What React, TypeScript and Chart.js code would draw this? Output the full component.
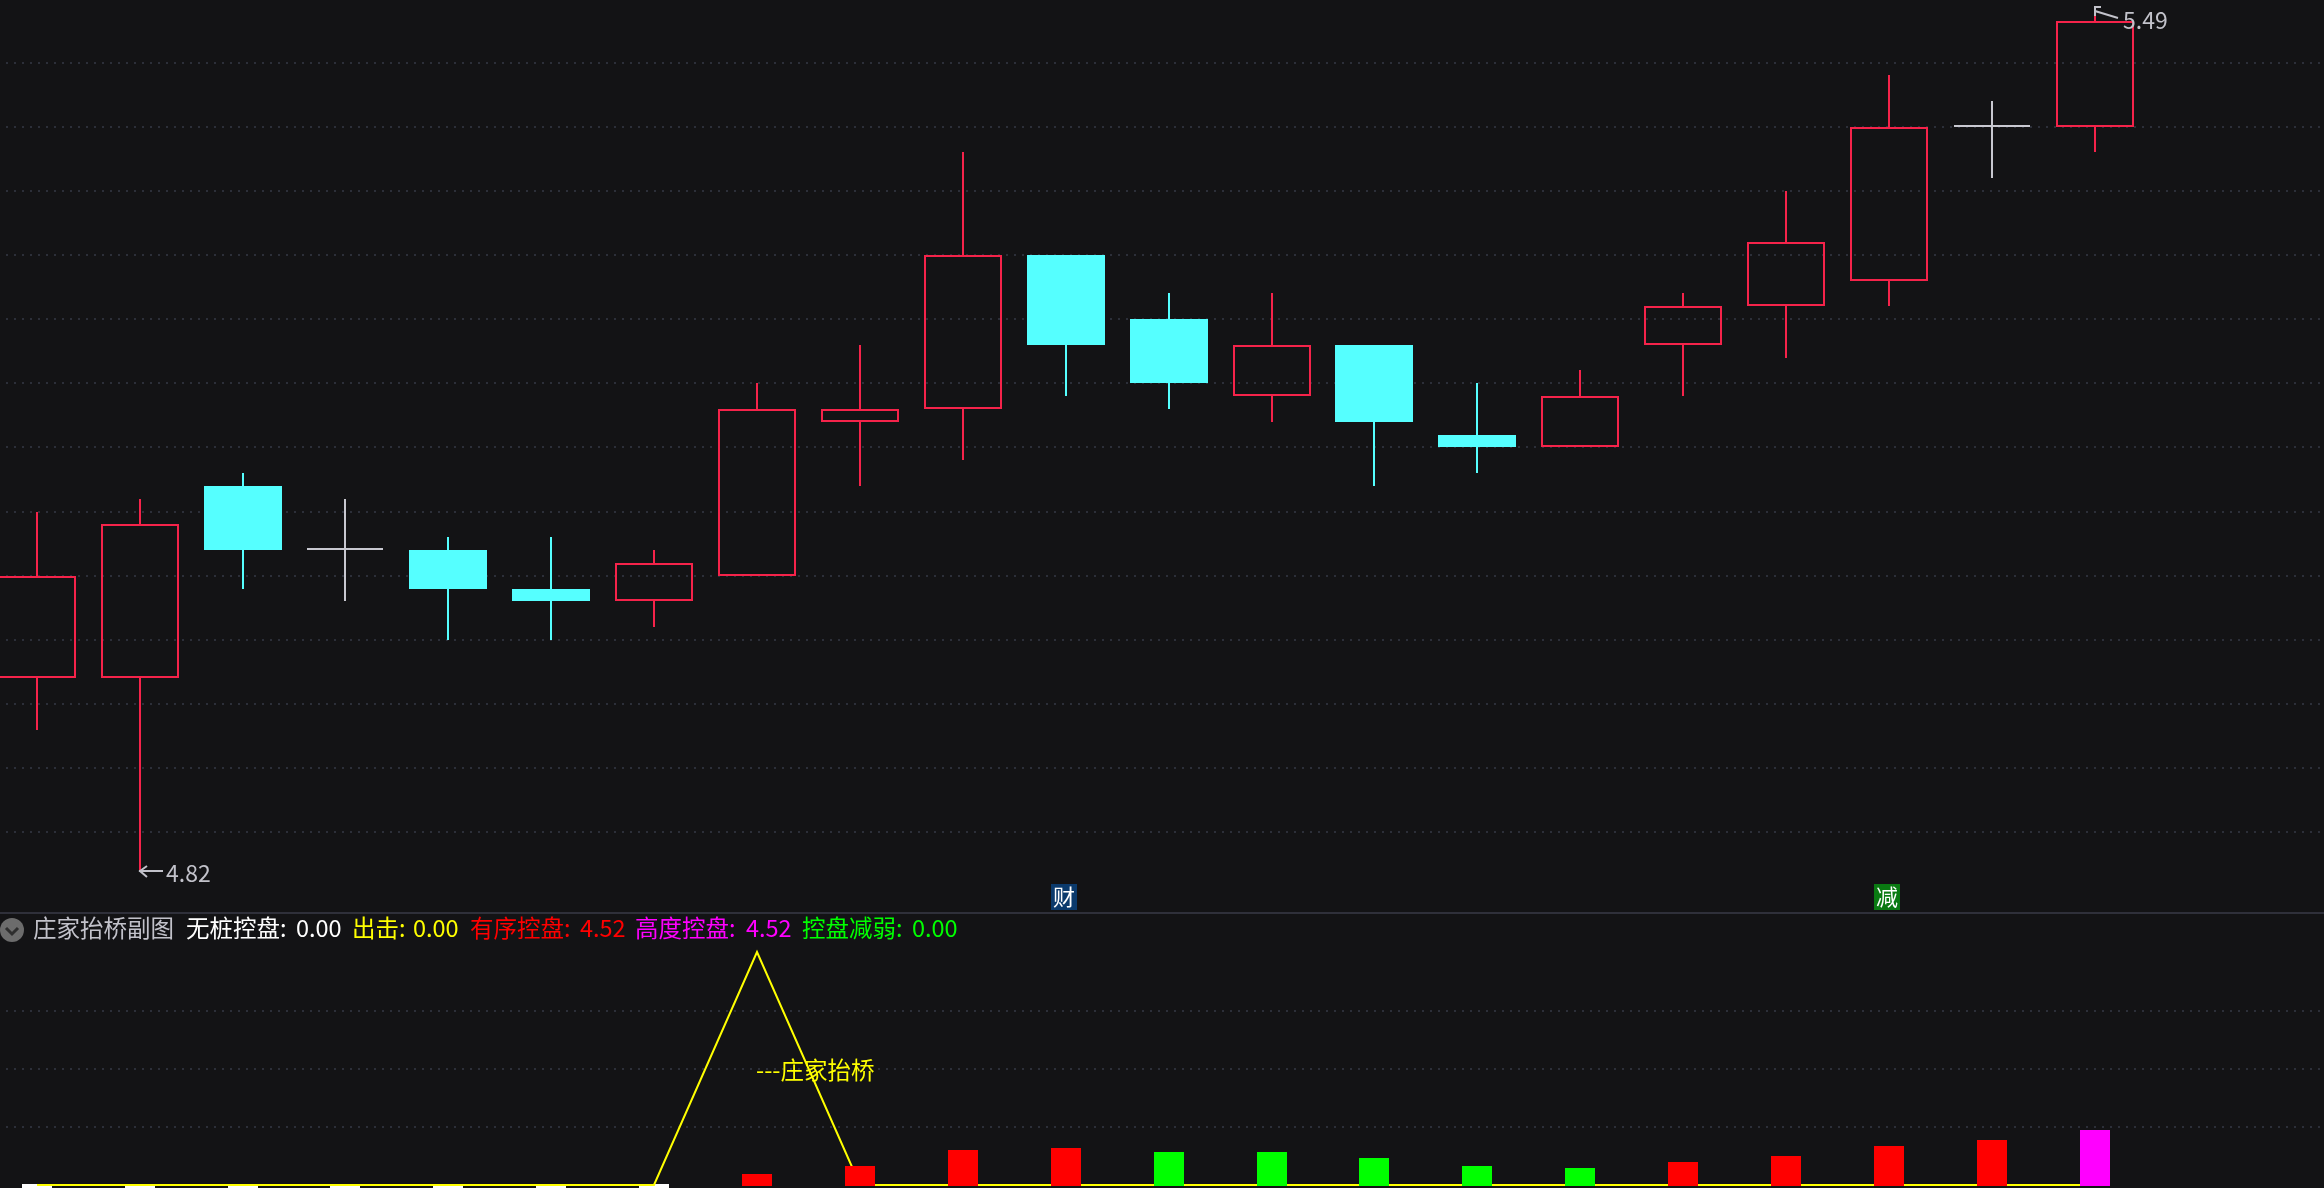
import React, { useEffect, useRef } from "react";
import { Chart, registerables } from "chart.js";

Chart.register(...registerables);

// ---- price panel data (one entry per trading day) ----
const opens = [4.97, 4.97, 5.12, 5.07, 5.07, 5.04, 5.03, 5.05, 5.17, 5.18, 5.30, 5.25, 5.19, 5.23, 5.16, 5.15, 5.23, 5.26, 5.28, 5.40, 5.40];
const closes = [5.05, 5.09, 5.07, 5.07, 5.04, 5.03, 5.06, 5.18, 5.18, 5.30, 5.23, 5.20, 5.23, 5.17, 5.15, 5.19, 5.26, 5.31, 5.40, 5.40, 5.482];
const highs = [5.10, 5.11, 5.13, 5.11, 5.08, 5.08, 5.07, 5.20, 5.23, 5.38, 5.30, 5.27, 5.27, 5.23, 5.20, 5.21, 5.27, 5.35, 5.44, 5.42, 5.49];
const lows = [4.93, 4.82, 5.04, 5.03, 5.00, 5.00, 5.01, 5.05, 5.12, 5.14, 5.19, 5.18, 5.17, 5.12, 5.13, 5.15, 5.19, 5.22, 5.26, 5.36, 5.38];
const priceTicks = [4.85, 4.9, 4.95, 5.0, 5.05, 5.1, 5.15, 5.2, 5.25, 5.3, 5.35, 5.4, 5.45];
const lowLabel = "4.82";
const highLabel = "5.49";
const lowIndex = 1;
const highIndex = 20;
const markerTexts = ["财", "减"];
const markerDays = [10, 18];
const markerColors = ["#0b3a6c", "#0a7a12"];

// ---- indicator panel data ----
const bridgeLine = [0.08, 0.08, 0.08, 0.08, 0.08, 0.08, 0.08, 18.89, 0.08, 0.08, 0.08, 0.08, 0.08, 0.08, 0.08, 0.08, 0.08, 0.08, 0.08, 0.08, 0.08];
const noControl = [0, 0, 0, 0, 0, 0, 0, null, null, null, null, null, null, null, null, null, null, null, null, null, null];
const orderedControl = [null, null, null, null, null, null, null, 0.97, 1.61, 2.91, 3.07, null, null, null, null, null, 1.94, 2.42, 3.23, 3.71, null];
const weakening = [null, null, null, null, null, null, null, null, null, null, null, 2.74, 2.74, 2.26, 1.61, 1.45, null, null, null, null, null];
const highControl = [null, null, null, null, null, null, null, null, null, null, null, null, null, null, null, null, null, null, null, null, 4.52];
const indicatorTicks = [4.76, 9.44, 14.12];
const panelTitle = "庄家抬桥副图";
const legendNames = ["无桩控盘:", "出击:", "有序控盘:", "高度控盘:", "控盘减弱:"];
const legendValues = ["0.00", "0.00", "4.52", "4.52", "0.00"];
const bridgeLabel = "---庄家抬桥";
const bridgeLabelDay = 7;
const bridgeLabelValue = 9.36;

// ---- style ----
const BG = "#131315";
const RED = "#f5234a";
const CYAN = "#55ffff";
const DOJI = "#c8c8d0";
const GRID = "#2c2f39";
const TEXT = "#c2c2ca";
const FONT = '"Noto Sans CJK SC", "Noto Sans", sans-serif';
const legendColors = ["#ffffff", "#ffff00", "#ff0000", "#ff00ff", "#00ff00"];
const legendX = [186, 352, 470, 635, 802];
const legendValueX = [296, 413, 580, 746, 912];
const X_MIN = -0.3576;
const X_MAX = 22.2274;

const snap = (scale: any, fn: (v: number) => number = Math.round) => {
  if (scale.__snapped) return;
  const raw = scale.getPixelForValue.bind(scale);
  scale.getPixelForValue = (v: any, i: any) => fn(raw(v, i));
  scale.__snapped = true;
};

const xScale = {
  type: "linear",
  display: false,
  offset: false,
  min: X_MIN,
  max: X_MAX,
  afterBuildTicks: (scale: any) => snap(scale),
  grid: { display: false },
};

const yScale = (min: number, max: number, ticks: number[], fn: (v: number) => number) => ({
  type: "linear",
  min,
  max,
  afterBuildTicks: (scale: any) => {
    scale.ticks = ticks.map((value) => ({ value }));
    snap(scale, fn);
  },
  ticks: { display: false },
  border: { display: false, dash: [2, 6], dashOffset: 2 },
  grid: { color: GRID, lineWidth: 2, drawTicks: false },
});

const barBase = { type: "bar", grouped: false, inflateAmount: 0, borderSkipped: false };

const days = opens.map((_, i) => i);
const floating = (pick: (i: number) => boolean, lo: (i: number) => number, hi: (i: number) => number) =>
  days.filter(pick).map((i) => ({ x: i, y: [lo(i), hi(i)] }));
const isUp = (i: number) => closes[i] > opens[i];
const isDown = (i: number) => closes[i] < opens[i];
const isDoji = (i: number) => closes[i] === opens[i];
const bodyTop = (i: number) => Math.max(opens[i], closes[i]);
const bodyBottom = (i: number) => Math.min(opens[i], closes[i]);
const wicks = (pick: (i: number) => boolean) => [
  ...floating((i) => pick(i) && highs[i] > bodyTop(i), bodyTop, (i) => highs[i]),
  ...floating((i) => pick(i) && lows[i] < bodyBottom(i), (i) => lows[i], bodyBottom),
];

const priceDatasets = [
  { ...barBase, label: "阳线影", data: wicks(isUp), backgroundColor: RED, barThickness: 2, borderWidth: 0, order: 3 },
  { ...barBase, label: "阴线影", data: wicks(isDown), backgroundColor: CYAN, barThickness: 2, borderWidth: 0, order: 3 },
  { ...barBase, label: "十字影", data: wicks(isDoji), backgroundColor: DOJI, barThickness: 2, borderWidth: 0, order: 3 },
  { ...barBase, label: "阳线", data: floating(isUp, bodyBottom, bodyTop), backgroundColor: "rgba(0,0,0,0)", borderColor: RED, borderWidth: 2, barThickness: 78, order: 2 },
  { ...barBase, label: "阴线", data: floating(isDown, bodyBottom, bodyTop), backgroundColor: CYAN, borderWidth: 0, barThickness: 78, order: 2 },
  { ...barBase, label: "十字", data: floating(isDoji, bodyBottom, bodyTop), backgroundColor: DOJI, borderWidth: 0, barThickness: 76, minBarLength: 2, order: 2 },
];

const series = (values: (number | null)[]) =>
  values.map((y, x) => ({ x, y })).filter((p) => p.y !== null);

const indicatorDatasets = [
  { ...barBase, label: "无桩控盘", data: series(noControl), backgroundColor: "#ffffff", borderWidth: 0, barThickness: 30, minBarLength: 4, order: 3 },
  {
    type: "line",
    label: "出击",
    data: series(bridgeLine),
    borderColor: "#ffff00",
    borderWidth: 2,
    pointRadius: 0,
    tension: 0,
    order: 2,
  },
  { ...barBase, label: "有序控盘", data: series(orderedControl), backgroundColor: "#ff0000", borderWidth: 0, barThickness: 30, order: 1 },
  { ...barBase, label: "控盘减弱", data: series(weakening), backgroundColor: "#00ff00", borderWidth: 0, barThickness: 30, order: 1 },
  { ...barBase, label: "高度控盘", data: series(highControl), backgroundColor: "#ff00ff", borderWidth: 0, barThickness: 30, order: 1 },
];

const pricePlugin = {
  id: "priceNotes",
  afterDatasetsDraw(chart: any) {
    const { ctx, scales } = chart;
    ctx.save();
    ctx.textAlign = "left";
    ctx.textBaseline = "alphabetic";
    ctx.font = `23px ${FONT}`;
    ctx.fillStyle = TEXT;
    ctx.strokeStyle = TEXT;
    ctx.lineWidth = 2;

    // lowest price note
    const lx = scales.x.getPixelForValue(lowIndex);
    const ly = scales.y.getPixelForValue(lows[lowIndex]);
    ctx.beginPath();
    ctx.moveTo(lx - 1, ly);
    ctx.lineTo(lx + 23, ly);
    ctx.moveTo(lx + 7, ly - 5);
    ctx.lineTo(lx, ly);
    ctx.lineTo(lx + 7, ly + 6);
    ctx.stroke();
    ctx.fillText(lowLabel, lx + 26, ly + 11);

    // highest price note
    const hx = scales.x.getPixelForValue(highIndex);
    const hy = scales.y.getPixelForValue(highs[highIndex]);
    ctx.beginPath();
    ctx.moveTo(hx, hy);
    ctx.lineTo(hx + 23, hy + 7);
    ctx.moveTo(hx + 6, hy - 4);
    ctx.lineTo(hx, hy - 4);
    ctx.lineTo(hx, hy + 5);
    ctx.stroke();
    ctx.fillText(highLabel, hx + 28, hy + 18);

    // event markers
    ctx.textAlign = "center";
    ctx.textBaseline = "middle";
    ctx.font = `22px ${FONT}`;
    markerTexts.forEach((t, i) => {
      const x = scales.x.getPixelForValue(markerDays[i]);
      ctx.fillStyle = markerColors[i];
      ctx.fillRect(x - 15, 884, 26, 26);
      ctx.fillStyle = "#ffffff";
      ctx.fillText(t, x - 2, 897);
    });
    ctx.restore();
  },
};

const indicatorPlugin = {
  id: "indicatorNotes",
  afterDatasetsDraw(chart: any) {
    const { ctx, scales } = chart;
    // canvas top sits at page y = 914
    const base = 937 - 914;
    ctx.save();
    // collapse icon
    ctx.fillStyle = "#6c6c6c";
    ctx.beginPath();
    ctx.arc(12, 16, 12, 0, Math.PI * 2);
    ctx.fill();
    ctx.strokeStyle = "#2e2e2e";
    ctx.lineWidth = 3;
    ctx.beginPath();
    ctx.moveTo(6, 14);
    ctx.lineTo(12, 20);
    ctx.lineTo(18, 14);
    ctx.stroke();

    ctx.textAlign = "left";
    ctx.textBaseline = "alphabetic";
    ctx.font = `23.5px ${FONT}`;
    ctx.fillStyle = TEXT;
    ctx.fillText(panelTitle, 33, base);
    legendNames.forEach((name, i) => {
      ctx.fillStyle = legendColors[i];
      ctx.fillText(name, legendX[i], base);
      ctx.fillText(legendValues[i], legendValueX[i], base);
    });

    ctx.fillStyle = "#ffff00";
    ctx.textBaseline = "middle";
    ctx.fillText(bridgeLabel, scales.x.getPixelForValue(bridgeLabelDay) - 1, scales.y.getPixelForValue(bridgeLabelValue));
    ctx.restore();
  },
};

const baseOptions = (y: any) => ({
  responsive: false,
  animation: false,
  maintainAspectRatio: false,
  layout: { padding: 0 },
  plugins: { legend: { display: false }, title: { display: false }, tooltip: { enabled: false } },
  scales: { x: xScale, y },
});

export default function App() {
  const priceRef = useRef<HTMLCanvasElement>(null);
  const indicatorRef = useRef<HTMLCanvasElement>(null);

  useEffect(() => {
    const price = new Chart(priceRef.current as any, {
      type: "bar",
      data: { datasets: priceDatasets as any },
      options: baseOptions(yScale(4.7884, 5.4991, priceTicks, Math.floor)) as any,
      plugins: [pricePlugin],
    });
    const indicator = new Chart(indicatorRef.current as any, {
      type: "bar",
      data: { datasets: indicatorDatasets as any },
      options: baseOptions(yScale(-0.1614, 21.953, indicatorTicks, Math.round)) as any,
      plugins: [indicatorPlugin],
    });
    return () => {
      price.destroy();
      indicator.destroy();
    };
  }, []);

  return (
    <div style={{ position: "fixed", left: 0, top: 0, width: 2324, height: 1188, background: BG, overflow: "hidden" }}>
      <canvas ref={priceRef} width={2324} height={912} style={{ position: "absolute", left: 0, top: 0, width: 2324, height: 912 }} />
      <div style={{ position: "absolute", left: 0, top: 912, width: 2324, height: 2, background: "#2f303a" }} />
      <canvas ref={indicatorRef} width={2324} height={274} style={{ position: "absolute", left: 0, top: 914, width: 2324, height: 274 }} />
    </div>
  );
}
